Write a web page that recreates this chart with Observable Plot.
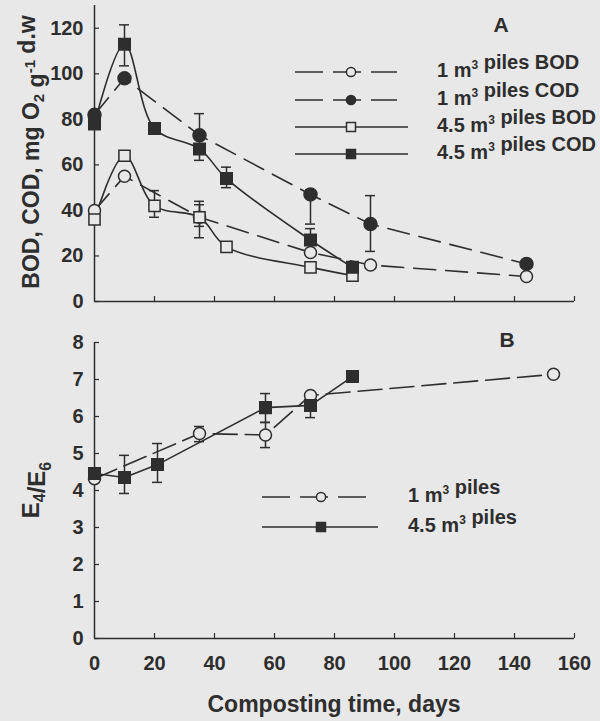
<!DOCTYPE html>
<html><head><meta charset="utf-8">
<script src="https://cdn.jsdelivr.net/npm/d3@7"></script>
<script src="https://cdn.jsdelivr.net/npm/@observablehq/plot@0.6"></script>
<style>
html,body{margin:0;padding:0;background:#e8e8e8;}
#chart{position:relative;width:600px;height:721px;overflow:hidden;}
#chart svg{display:block;overflow:visible;}
</style></head><body><div id="chart"></div>
<script>
// ---------- data ----------
// Panel A: BOD / COD (mg O2 g-1 d.w)
const daysA1 = [0, 10, 35, 72, 92, 144];
const bod1 = [40, 55, 37, 21.5, 16, 11];
const cod1 = [82, 98, 73, 47, 34, 16.5];
const daysA45 = [0, 10, 20, 35, 44, 72, 86];
const bod45 = [36, 64, 42, 37, 24, 15, 11.4];
const cod45 = [78, 113, 76, 67, 54, 27, 15];
const errADays = [10, 35, 44, 72, 20, 35, 35, 72, 92];
const errALow = [103.5, 62, 50, 22, 37, 28, 33, 34, 22];
const errAHigh = [121.5, 82.5, 59, 32, 48.7, 44, 42.5, 49, 46.5];
// Panel B: E4/E6
const daysB1 = [0, 35, 57, 72, 153];
const e1 = [4.32, 5.54, 5.5, 6.57, 7.14];
const daysB45 = [0, 10, 21, 57, 72, 86];
const e45 = [4.46, 4.35, 4.7, 6.24, 6.3, 7.08];
const errBDays = [10, 21, 57, 72, 35, 57];
const errBLow = [3.92, 4.22, 5.84, 5.97, 5.32, 5.16];
const errBHigh = [4.95, 5.27, 6.62, 6.62, 5.73, 5.84];
// ticks and labels
const xTicks = [0, 20, 40, 60, 80, 100, 120, 140, 160];
const yTicksA = [0, 20, 40, 60, 80, 100, 120];
const yTicksB = [0, 1, 2, 3, 4, 5, 6, 7, 8];
const legendA = ["1 m|3| piles BOD", "1 m|3| piles COD", "4.5 m|3| piles BOD", "4.5 m|3| piles COD"];
const legendB = ["1 m|3| piles", "4.5 m|3| piles"];
const xTitle = "Composting time, days";

// ---------- style ----------
const ink = "#2e2e2e", bg = "#e8e8e8";
const font = "'Liberation Sans', Arial, Helvetica, sans-serif";
const rows = (d, v) => d.map((x, i) => ({day: x, v: v[i]}));
const errs = (d, lo, hi) => d.map((x, i) => ({day: x, lo: lo[i], hi: hi[i]}));
const baseStyle = {background: "transparent", fontFamily: font, fontSize: "20px", fontWeight: "bold", color: ink, overflow: "visible"};

function errorMarks(data) {
  return [
    Plot.ruleX(data, {x: "day", y1: "lo", y2: "hi", stroke: ink, strokeWidth: 1.5}),
    Plot.ruleY(data, {y: "lo", x1: "day", x2: "day", insetLeft: -5, insetRight: -5, stroke: ink, strokeWidth: 1.5}),
    Plot.ruleY(data, {y: "hi", x1: "day", x2: "day", insetLeft: -5, insetRight: -5, stroke: ink, strokeWidth: 1.5})
  ];
}

// ---------- panel A ----------
const plotA = Plot.plot({
  width: 600, height: 320, marginLeft: 94, marginRight: 26, marginTop: 5, marginBottom: 19,
  style: baseStyle,
  x: {domain: [0, 160], axis: null},
  y: {domain: [0, 130], axis: null},
  marks: [
    Plot.ruleX([0], {stroke: ink, strokeWidth: 1.5}),
    Plot.ruleY([0], {stroke: ink, strokeWidth: 1.5}),
    Plot.tickY(yTicksA, {y: d => d, insetRight: 475, stroke: ink, strokeWidth: 1.2}),
    Plot.tickX(xTicks.slice(1), {x: d => d, insetTop: 291, stroke: ink, strokeWidth: 1.2}),
    Plot.axisY(yTicksA, {tickSize: 0, tickPadding: 11, label: null, fontSize: 20, fontWeight: "bold", fill: ink}),
    Plot.line(rows(daysA1, bod1), {x: "day", y: "v", stroke: ink, strokeWidth: 1.6, strokeDasharray: "22,10"}),
    Plot.line(rows(daysA1, cod1), {x: "day", y: "v", stroke: ink, strokeWidth: 1.6, strokeDasharray: "22,10"}),
    Plot.line(rows(daysA45, bod45), {x: "day", y: "v", curve: "catmull-rom", stroke: ink, strokeWidth: 1.6}),
    Plot.line(rows(daysA45, cod45), {x: "day", y: "v", curve: "catmull-rom", stroke: ink, strokeWidth: 1.6}),
    ...errorMarks(errs(errADays, errALow, errAHigh)),
    Plot.dot(rows(daysA1, bod1), {x: "day", y: "v", r: 6, fill: bg, stroke: ink, strokeWidth: 1.5}),
    Plot.dot(rows(daysA1, cod1), {x: "day", y: "v", r: 6.5, fill: ink, stroke: ink}),
    Plot.dot(rows(daysA45, bod45), {x: "day", y: "v", symbol: "square", r: 6.3, fill: bg, stroke: ink, strokeWidth: 1.5}),
    Plot.dot(rows(daysA45, cod45), {x: "day", y: "v", symbol: "square", r: 6.5, fill: ink, stroke: ink})
  ]
});

// ---------- panel B ----------
const plotB = Plot.plot({
  width: 600, height: 401, marginLeft: 94, marginRight: 26, marginTop: 22, marginBottom: 83,
  style: baseStyle,
  x: {domain: [0, 160], axis: null},
  y: {domain: [0, 8], axis: null},
  marks: [
    Plot.ruleX([0], {stroke: ink, strokeWidth: 1.5}),
    Plot.ruleY([0], {stroke: ink, strokeWidth: 1.5}),
    Plot.tickY(yTicksB, {y: d => d, insetRight: 475, stroke: ink, strokeWidth: 1.2}),
    Plot.tickX(xTicks.slice(1), {x: d => d, insetTop: 291, stroke: ink, strokeWidth: 1.2}),
    Plot.axisY(yTicksB, {tickSize: 0, tickPadding: 11, label: null, fontSize: 20, fontWeight: "bold", fill: ink}),
    Plot.axisX(xTicks, {tickSize: 0, tickPadding: 17, label: null, fontSize: 20, fontWeight: "bold", fill: ink}),
    Plot.line(rows(daysB1, e1), {x: "day", y: "v", stroke: ink, strokeWidth: 1.6, strokeDasharray: "24,8"}),
    Plot.line(rows(daysB45, e45), {x: "day", y: "v", stroke: ink, strokeWidth: 1.6}),
    ...errorMarks(errs(errBDays, errBLow, errBHigh)),
    Plot.dot(rows(daysB1, e1), {x: "day", y: "v", r: 6, fill: bg, stroke: ink, strokeWidth: 1.5}),
    Plot.dot(rows(daysB45, e45), {x: "day", y: "v", symbol: "square", r: 6.5, fill: ink, stroke: ink})
  ]
});

const chart = document.getElementById("chart");
chart.appendChild(plotA);
chart.appendChild(plotB);

// ---------- titles & legends (overlay) ----------
function richText(sel, str, big, small, shift) {
  // str uses |x| for superscript and _x_ for subscript
  const parts = str.split(/(\|[^|]*\||_[^_]*_)/).filter(s => s.length);
  parts.forEach(p => {
    if (p[0] === "|") {
      sel.append("tspan").attr("font-size", small).attr("dy", -shift).text(p.slice(1, -1));
      sel.append("tspan").attr("font-size", big).attr("dy", shift).text("");
    } else if (p[0] === "_") {
      sel.append("tspan").attr("font-size", small).attr("dy", shift * 0.6).text(p.slice(1, -1));
      sel.append("tspan").attr("font-size", big).attr("dy", -shift * 0.6).text("");
    } else {
      sel.append("tspan").attr("font-size", big).text(p);
    }
  });
}
function styleText(t, size) {
  return t.attr("font-family", font).attr("font-weight", "bold").attr("font-size", size).attr("fill", ink);
}

const sA = d3.select(plotA);
const tA = styleText(sA.append("text"), 23).attr("text-anchor", "middle")
  .attr("transform", "translate(39,152) rotate(-90)");
richText(tA, "BOD, COD, mg O_2_ g|-1| d.w", 23, 15, 9);
styleText(sA.append("text"), 21).attr("x", 501).attr("y", 32).attr("text-anchor", "middle").text("A");

const legA = [
  {y: 72, dash: true, filled: false, sym: "circle"},
  {y: 100, dash: true, filled: true, sym: "circle"},
  {y: 127, dash: false, filled: false, sym: "square"},
  {y: 154, dash: false, filled: true, sym: "square"}
];
function legendRow(svg, row, label, x0, x1dash, x1, xm, xt) {
  const g = svg.append("g");
  g.append("line").attr("x1", x0).attr("x2", row.dash ? x1dash : x1).attr("y1", row.y).attr("y2", row.y)
    .attr("stroke", ink).attr("stroke-width", 1.5).attr("stroke-dasharray", row.dash ? "28,10" : null);
  if (row.sym === "circle") {
    g.append("circle").attr("cx", xm).attr("cy", row.y).attr("r", 4.6)
      .attr("fill", row.filled ? ink : bg).attr("stroke", ink).attr("stroke-width", 1.5);
  } else {
    g.append("rect").attr("x", xm - 4.5).attr("y", row.y - 4.5).attr("width", 9).attr("height", 9)
      .attr("fill", row.filled ? ink : bg).attr("stroke", ink).attr("stroke-width", 1.5);
  }
  const t = styleText(g.append("text"), 20).attr("x", xt).attr("y", row.y + 5).attr("text-anchor", "start");
  richText(t, label, 20, 12, 8);
}
legA.forEach((r, i) => legendRow(sA, r, legendA[i], 295, 397, 408, 351, 437));

const sB = d3.select(plotB);
const tB = styleText(sB.append("text"), 24).attr("text-anchor", "middle")
  .attr("transform", "translate(39,170) rotate(-90)");
richText(tB, "E_4_/E_6_", 24, 16, 10);
styleText(sB.append("text"), 21).attr("x", 507).attr("y", 27).attr("text-anchor", "middle").text("B");
styleText(sB.append("text"), 23).attr("x", 334).attr("y", 392).attr("text-anchor", "middle").text(xTitle);
const legB = [
  {y: 177, dash: true, filled: false, sym: "circle"},
  {y: 207, dash: false, filled: true, sym: "square"}
];
legB.forEach((r, i) => legendRow(sB, r, legendB[i], 262, 367, 378, 321, 408));
</script></body></html>
